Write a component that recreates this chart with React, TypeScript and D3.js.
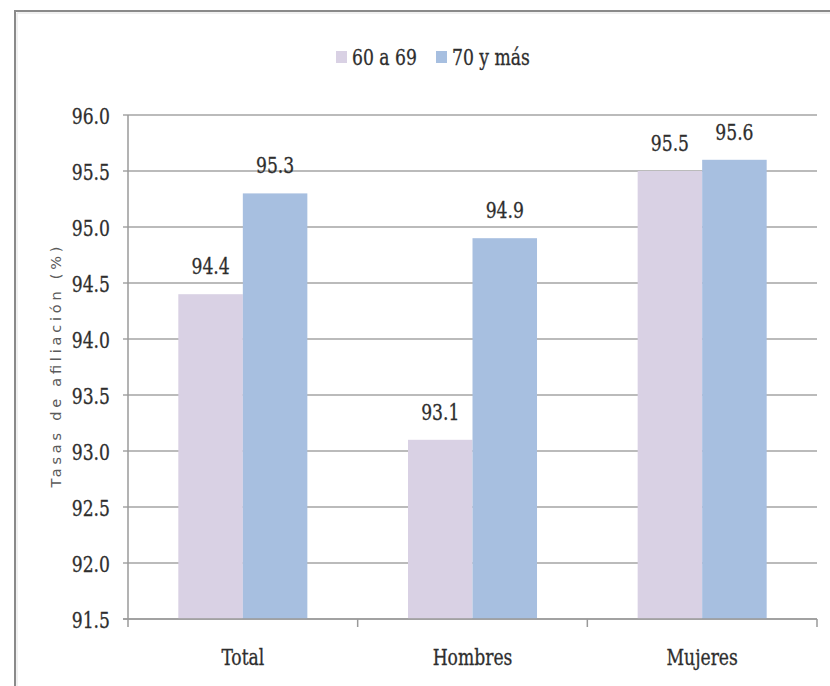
import React from "react";
import * as d3 from "d3";

const categories = ["Total", "Hombres", "Mujeres"];
const seriesNames = ["60 a 69", "70 y más"];
const values6069 = [94.4, 93.1, 95.5];
const values70mas = [95.3, 94.9, 95.6];
const yTicks = [91.5, 92.0, 92.5, 93.0, 93.5, 94.0, 94.5, 95.0, 95.5, 96.0];
const seriesColors = ["#d9d1e4", "#a7bfe0"];

const W = 830;
const H = 686;
const plotLeft = 128;
const plotRight = 817;
const plotTop = 115;
const plotBottom = 619;
const serif = "'DejaVu Serif Condensed', 'DejaVu Serif', serif";
const squeeze = 0.83;
const fontSize = 23;
const textColor = "#2e2e2e";

function Label({ x, y, anchor, children }: { x: number; y: number; anchor: string; children: React.ReactNode }) {
  return (
    <text
      transform={`translate(${x},${y}) scale(${squeeze},1)`}
      textAnchor={anchor as any}
      fontFamily={serif}
      fontStretch="condensed"
      fontSize={fontSize}
      fill={textColor}
      stroke={textColor}
      strokeWidth={0.3}
    >
      {children}
    </text>
  );
}

export default function App() {
  const x = d3.scaleBand<string>().domain(categories).range([plotLeft, plotRight]).padding(0);
  const y = d3.scaleLinear().domain([91.5, 96.0]).range([plotBottom, plotTop]);
  const gapRatio = 1.56;
  const barW = x.bandwidth() / (2 + gapRatio);
  const inner = d3
    .scaleBand<string>()
    .domain(seriesNames)
    .range([0, barW * 2])
    .padding(0);
  const groupOffset = (x.bandwidth() - barW * 2) / 2;
  const series = [values6069, values70mas];
  const boundaries = [plotLeft, ...categories.map((c) => (x(c) as number) + x.bandwidth())];

  return (
    <svg width={W} height={H} style={{ position: "absolute", left: 0, top: 0, background: "#fff" }}>
      {/* outer frame, open on the right and bottom */}
      <path d={`M15,${H + 5} L15,11 L${W + 5},11`} fill="none" stroke="#8a8a8a" strokeWidth={2} />
      <path d={`M17,${H + 5} L17,13 L${W + 5},13`} fill="none" stroke="#e2e2e2" strokeWidth={1} />

      {/* legend */}
      <g>
        <rect x={336} y={51} width={11} height={12} fill={seriesColors[0]} />
        <Label x={352} y={65} anchor="start">{seriesNames[0]}</Label>
        <rect x={436} y={51} width={11} height={12} fill={seriesColors[1]} />
        <Label x={452} y={65} anchor="start">{seriesNames[1]}</Label>
      </g>

      {/* gridlines and y ticks */}
      {yTicks.map((t) => (
        <g key={t}>
          <line x1={plotLeft - 5} x2={plotRight} y1={y(t)} y2={y(t)} stroke="#a4a4a4" strokeWidth={1.5} />
          <Label x={110} y={y(t) + 8.5} anchor="end">{t.toFixed(1)}</Label>
        </g>
      ))}

      {/* bars */}
      {categories.map((c, ci) =>
        series.map((vals, si) => {
          const bx = (x(c) as number) + groupOffset + (inner(seriesNames[si]) as number);
          const by = y(vals[ci]);
          return (
            <g key={c + si}>
              <rect x={bx} y={by} width={barW} height={plotBottom - by} fill={seriesColors[si]} />
              <Label x={bx + barW / 2} y={by - 20} anchor="middle">{vals[ci].toFixed(1)}</Label>
            </g>
          );
        })
      )}

      {/* axes */}
      <line x1={plotLeft} x2={plotLeft} y1={plotTop} y2={plotBottom} stroke="#9a9a9a" strokeWidth={1.5} />
      <line x1={plotLeft - 5} x2={plotRight} y1={plotBottom} y2={plotBottom} stroke="#9a9a9a" strokeWidth={1.5} />
      {boundaries.map((b, i) => (
        <line key={i} x1={b} x2={b} y1={plotBottom} y2={plotBottom + 8} stroke="#9a9a9a" strokeWidth={1.5} />
      ))}

      {/* category labels */}
      {categories.map((c) => (
        <Label key={c} x={(x(c) as number) + x.bandwidth() / 2} y={665} anchor="middle">{c}</Label>
      ))}

      {/* y axis title */}
      <text
        transform={`translate(61,${367}) rotate(-90)`}
        textAnchor="middle"
        fontFamily="'DejaVu Sans', Verdana, sans-serif"
        fontSize={14.5}
        fill="#5a5a5a"
        textLength={241}
        lengthAdjust="spacing"
      >
        Tasas de afiliación (%)
      </text>
    </svg>
  );
}
